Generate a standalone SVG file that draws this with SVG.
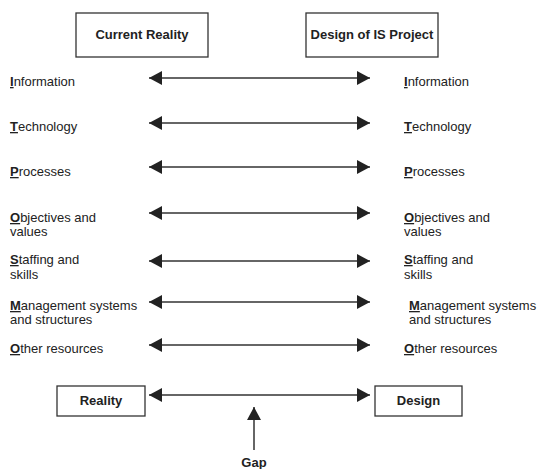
<svg xmlns="http://www.w3.org/2000/svg" width="540" height="469" viewBox="0 0 540 469">
<style>
text{font-family:"Liberation Sans",Arial,sans-serif;font-size:13px;fill:#222}
.b{font-weight:bold}
.u{font-weight:bold;text-decoration:underline}
.box{fill:#fff;stroke:#333;stroke-width:1.3}
.ln{stroke:#333;stroke-width:1.5;fill:none}
</style>
<defs>
<marker id="ah" markerUnits="userSpaceOnUse" markerWidth="14" markerHeight="14" refX="13" refY="7" orient="auto-start-reverse" viewBox="0 0 14 14">
<path d="M0,0 L13,7 L0,14 Z" fill="#222"/>
</marker>
</defs>
<g id="current-reality"><rect class="box" x="76" y="13" width="132" height="44"/><text class="b" x="142" y="39" text-anchor="middle">Current Reality</text></g>
<g id="design-is"><rect class="box" x="306" y="13" width="132" height="44"/><text class="b" x="372" y="39" text-anchor="middle">Design of IS Project</text></g>
<g id="l-info"><text x="10" y="86"><tspan class="u">I</tspan>nformation</text></g>
<g id="r-info"><text x="404" y="86"><tspan class="u">I</tspan>nformation</text></g>
<g id="l-tech"><text x="10" y="131"><tspan class="u">T</tspan>echnology</text></g>
<g id="r-tech"><text x="404" y="131"><tspan class="u">T</tspan>echnology</text></g>
<g id="l-proc"><text x="10" y="176"><tspan class="u">P</tspan>rocesses</text></g>
<g id="r-proc"><text x="404" y="176"><tspan class="u">P</tspan>rocesses</text></g>
<g id="l-obj"><text x="10" y="222"><tspan class="u">O</tspan>bjectives and</text><text x="10" y="236">values</text></g>
<g id="r-obj"><text x="404" y="222"><tspan class="u">O</tspan>bjectives and</text><text x="404" y="236">values</text></g>
<g id="l-staff"><text x="10" y="264"><tspan class="u">S</tspan>taffing and</text><text x="10" y="279">skills</text></g>
<g id="r-staff"><text x="404" y="264"><tspan class="u">S</tspan>taffing and</text><text x="404" y="279">skills</text></g>
<g id="l-mgmt"><text x="10" y="310"><tspan class="u">M</tspan>anagement systems</text><text x="10" y="324">and structures</text></g>
<g id="r-mgmt"><text x="409" y="310"><tspan class="u">M</tspan>anagement systems</text><text x="409" y="324">and structures</text></g>
<g id="l-other"><text x="10" y="353"><tspan class="u">O</tspan>ther resources</text></g>
<g id="r-other"><text x="404" y="353"><tspan class="u">O</tspan>ther resources</text></g>
<g id="reality"><rect class="box" x="57" y="386" width="88" height="30"/><text class="b" x="101" y="405" text-anchor="middle">Reality</text></g>
<g id="design"><rect class="box" x="375" y="386" width="87" height="30"/><text class="b" x="418.5" y="405" text-anchor="middle">Design</text></g>
<g id="gap"><text class="b" x="254" y="467" text-anchor="middle">Gap</text></g>
<g id="connectors">
<line class="ln" x1="149" y1="78" x2="370" y2="78" marker-start="url(#ah)" marker-end="url(#ah)"/>
<line class="ln" x1="149" y1="123" x2="370" y2="123" marker-start="url(#ah)" marker-end="url(#ah)"/>
<line class="ln" x1="149" y1="167" x2="370" y2="167" marker-start="url(#ah)" marker-end="url(#ah)"/>
<line class="ln" x1="149" y1="213" x2="370" y2="213" marker-start="url(#ah)" marker-end="url(#ah)"/>
<line class="ln" x1="149" y1="261" x2="370" y2="261" marker-start="url(#ah)" marker-end="url(#ah)"/>
<line class="ln" x1="149" y1="302" x2="370" y2="302" marker-start="url(#ah)" marker-end="url(#ah)"/>
<line class="ln" x1="149" y1="345" x2="370" y2="345" marker-start="url(#ah)" marker-end="url(#ah)"/>
<line class="ln" x1="149" y1="395" x2="370" y2="395" marker-start="url(#ah)" marker-end="url(#ah)"/>
<line class="ln" x1="254" y1="450" x2="254" y2="407" marker-end="url(#ah)"/>
</g>
</svg>
